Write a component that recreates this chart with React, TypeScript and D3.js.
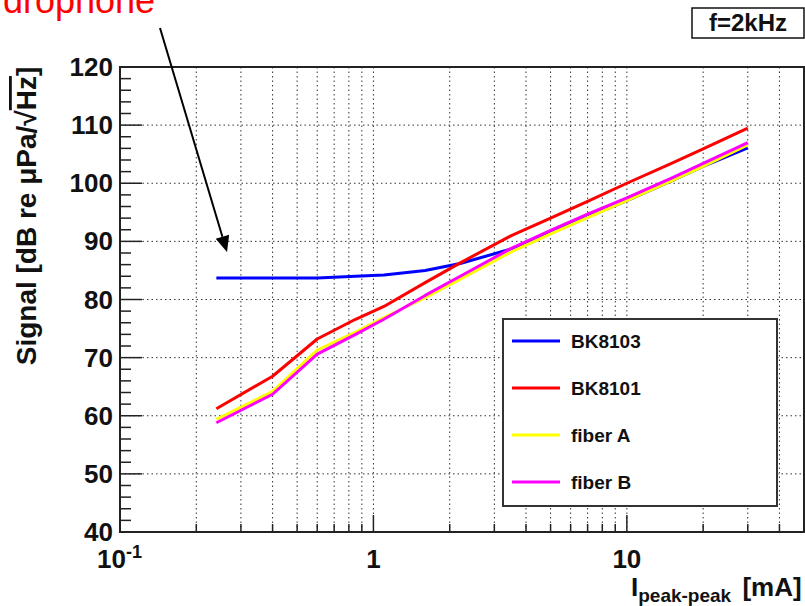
import React from 'react';
import * as d3 from 'd3';

// current (mA) and signal levels (dB re uPa/sqrt(Hz))
const current = [0.24, 0.4, 0.6, 0.85, 1.1, 1.6, 2.2, 3.5, 5, 7, 10, 15, 20, 30];
const bk8103 = [83.7, 83.7, 83.7, 84.0, 84.2, 85.0, 86.2, 88.7, 91.5, 94.2, 97.0, 100.4, 102.9, 106.1];
const bk8101 = [61.2, 66.8, 73.2, 76.6, 78.8, 82.9, 86.3, 91.0, 94.0, 96.9, 100.0, 103.4, 105.9, 109.5];
const fiberA = [59.4, 64.2, 71.3, 74.4, 76.9, 80.3, 83.5, 88.2, 91.3, 94.1, 97.0, 100.4, 102.9, 106.6];
const fiberB = [58.8, 63.7, 70.6, 74.0, 76.6, 80.7, 84.0, 88.8, 91.9, 94.7, 97.5, 100.9, 103.4, 107.0];

const seriesNames = ['BK8103', 'BK8101', 'fiber A', 'fiber B'];
const seriesColors = ['#0000ff', '#ff0000', '#ffff00', '#ff00ff'];
const seriesValues = [bk8103, bk8101, fiberA, fiberB];

const yTickLabels = [40, 50, 60, 70, 80, 90, 100, 110, 120];
const xTickLabels = [0.1, 1, 10];

const font = '"Liberation Sans", Arial, Helvetica, sans-serif';

export default function App() {
  const W = 805;
  const H = 606;
  const left = 120, right = 804, top = 67, bottom = 532;

  const x = d3.scaleLog().domain([0.1, 50]).range([left, right]);
  const y = d3.scaleLinear().domain([40, 120]).range([bottom, top]);

  const line = d3.line<[number, number]>()
    .x(d => x(d[0]))
    .y(d => y(d[1]));

  const xTicks = x.ticks().filter(t => t > 0.1 && t < 50);
  const isDecade = (t: number) => Math.abs(Math.log10(t) - Math.round(Math.log10(t))) < 1e-9;
  const yMinor = d3.range(40, 121, 2);
  const yGrid = d3.range(50, 120, 10);

  // arrow from the (cropped) hydrophone annotation
  const a0 = [160, 28], tip = [227, 252];
  const dx = tip[0] - a0[0], dy = tip[1] - a0[1];
  const len = Math.hypot(dx, dy);
  const ux = dx / len, uy = dy / len;
  const hl = 16, hw = 7;
  const bx = tip[0] - hl * ux, by = tip[1] - hl * uy;
  const head = `${tip[0]},${tip[1]} ${bx - hw * uy},${by + hw * ux} ${bx + hw * uy},${by - hw * ux}`;

  const legendX = 503, legendY = 319;

  return (
    <svg width={W} height={H} style={{ position: 'absolute', left: 0, top: 0, background: '#fff' }}
      fontFamily={font}>
      <rect width={W} height={H} fill="#fff" />

      {/* grid */}
      {xTicks.map(t => (
        <line key={'gx' + t} x1={x(t)} x2={x(t)} y1={top} y2={bottom}
          stroke="#333" strokeWidth={1} strokeDasharray="1.5,3" />
      ))}
      {yGrid.map(v => (
        <line key={'gy' + v} x1={left} x2={right} y1={y(v)} y2={y(v)}
          stroke="#333" strokeWidth={1} strokeDasharray="1.5,3" />
      ))}

      {/* ticks */}
      {xTicks.map(t => (
        <line key={'tx' + t} x1={x(t)} x2={x(t)} y1={bottom} y2={bottom - (isDecade(t) ? 17 : 8)}
          stroke="#222" strokeWidth={1.5} />
      ))}
      {yMinor.map(v => (
        <line key={'ty' + v} x1={left} x2={left + (v % 10 === 0 ? 22 : 11)} y1={y(v)} y2={y(v)}
          stroke="#222" strokeWidth={1.5} />
      ))}

      {/* curves */}
      {seriesValues.map((vals, i) => (
        <path key={seriesNames[i]} d={line(current.map((c, j) => [c, vals[j]]) as [number, number][]) || ''}
          fill="none" stroke={seriesColors[i]} strokeWidth={3} strokeLinejoin="round" />
      ))}

      {/* frame */}
      <rect x={left} y={top} width={right - left} height={bottom - top} fill="none" stroke="#222" strokeWidth={2} />

      {/* y tick labels */}
      {yTickLabels.map(v => (
        <text key={'yl' + v} x={113} y={y(v)} textAnchor="end" dominantBaseline="central"
          fontSize={26} fontWeight="bold" fill="#111">{v}</text>
      ))}

      {/* x tick labels */}
      {xTickLabels.map(v => (
        v < 1 ? (
          <text key={'xl' + v} x={x(v) - 23} y={568} fontSize={26} fontWeight="bold" fill="#111">
            10<tspan fontSize={18} dy={-10}>-1</tspan>
          </text>
        ) : (
          <text key={'xl' + v} x={x(v)} y={568} textAnchor="middle" fontSize={26} fontWeight="bold" fill="#111">{v}</text>
        )
      ))}

      {/* axis titles */}
      <text x={631} y={596} fontSize={26} fontWeight="bold" fill="#111">
        I<tspan fontSize={19} dy={6}>peak-peak</tspan><tspan fontSize={26} dy={-6} dx={4}> [mA]</tspan>
      </text>
      <text transform="translate(36,216) rotate(-90)" textAnchor="middle" fontSize={28} fontWeight="bold" fill="#111">
        Signal [dB re μPa/√<tspan textDecoration="overline" style={{ textDecoration: 'overline' }}>Hz</tspan>]
      </text>

      {/* legend */}
      <rect x={legendX} y={legendY} width={274} height={187} fill="#fff" stroke="#333" strokeWidth={2} />
      {seriesNames.map((name, i) => {
        const ly = legendY + 22 + i * 47;
        return (
          <g key={'lg' + name}>
            <line x1={legendX + 9} x2={legendX + 57} y1={ly} y2={ly} stroke={seriesColors[i]} strokeWidth={3} />
            <text x={legendX + 68} y={ly} dominantBaseline="central" fontSize={19} fontWeight="bold" fill="#111">{name}</text>
          </g>
        );
      })}

      {/* frequency label */}
      <rect x={692} y={8} width={112} height={30} fill="#fff" stroke="#111" strokeWidth={1.5} />
      <text x={748} y={31} textAnchor="middle" fontSize={24} fontWeight="bold" fill="#111">f=2kHz</text>

      {/* annotation */}
      <text x={3} y={13} fontSize={36} fill="#ff0000">drophone</text>
      <line x1={a0[0]} y1={a0[1]} x2={bx} y2={by} stroke="#000" strokeWidth={2} />
      <polygon points={head} fill="#000" />
    </svg>
  );
}
